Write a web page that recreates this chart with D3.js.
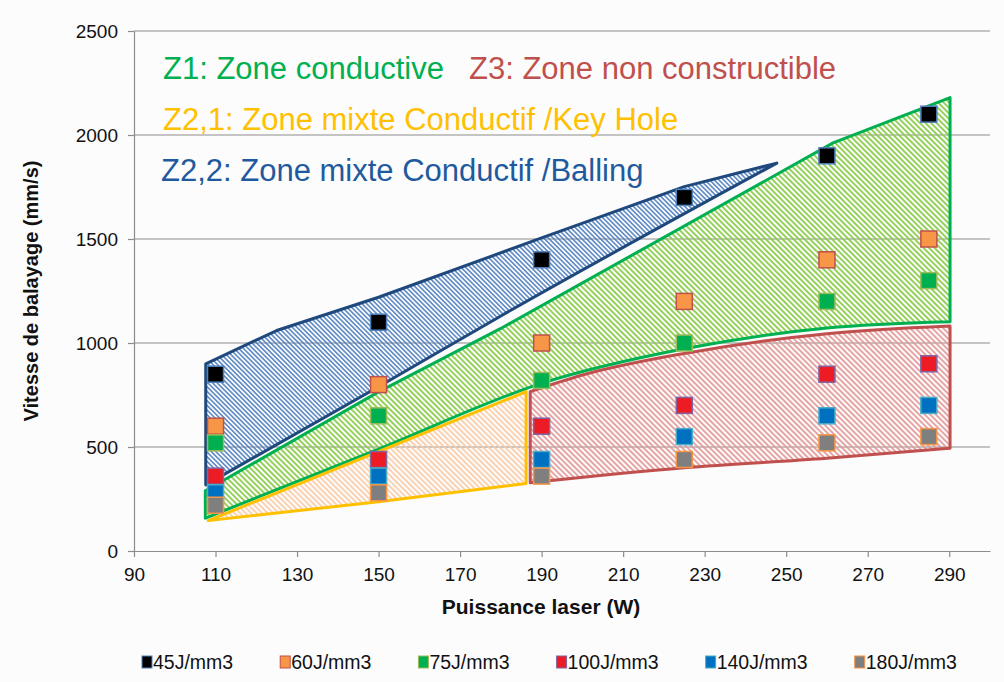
<!DOCTYPE html>
<html>
<head>
<meta charset="utf-8">
<script src="https://cdn.jsdelivr.net/npm/d3@7"></script>
<style>
  body { margin: 0; background: #fcfcfc; }
  svg { display: block; font-family: "Liberation Sans", Arial, sans-serif; }
</style>
</head>
<body>
<div id="main"></div>
<script>
// x values (laser power, W)
const powers = [110, 150, 190, 225, 260, 285]
const seriesNames = ["45J/mm3", "60J/mm3", "75J/mm3", "100J/mm3", "140J/mm3", "180J/mm3"]
// scan speed (mm/s) for each energy density
const v45 = [850, 1100, 1400, 1700, 1900, 2100]
const v60 = [600, 800, 1000, 1200, 1400, 1500]
const v75 = [520, 650, 820, 1000, 1200, 1300]
const v100 = [360, 440, 600, 700, 850, 900]
const v140 = [280, 360, 440, 550, 650, 700]
const v180 = [220, 280, 360, 440, 520, 550]

const xTicks = [90, 110, 130, 150, 170, 190, 210, 230, 250, 270, 290]
const yTicks = [0, 500, 1000, 1500, 2000, 2500]

// zone outlines: upper edge and lower edge, [power, speed]
const z22Top = [[107.6, 900], [125, 1060], [150, 1220], [190, 1505], [225, 1752], [247.7, 1865]]
const z22Bottom = [[107.6, 318], [150, 790], [180, 1130], [247.7, 1865]]
const z1Top = [[107.5, 290], [150, 765], [180, 1070], [261.5, 1962], [290.2, 2180]]
const z1Bottom = [[107.5, 158], [150, 490], [190, 806], [225, 972], [260, 1072], [290.2, 1102]]
const z21Top = [[108.2, 146], [186.2, 766]]
const z21Bottom = [[108.2, 146], [150, 237], [186.2, 325]]
const z3Top = [[187.2, 766], [200, 846], [225, 950], [260, 1045], [290.2, 1082]]
const z3Bottom = [[187.2, 328], [225, 400], [260, 446], [290.2, 494]]

const zoneLabels = ["Z1: Zone conductive", "Z3: Zone non constructible",
                    "Z2,1: Zone mixte Conductif /Key Hole", "Z2,2: Zone mixte Conductif /Balling"]

let width = 1004
let height = 682

let svg = d3.select('#main')
            .append('svg')
            .attr('width', width)
            .attr('height', height)

svg.append('rect').attr('width', width).attr('height', height).attr('fill', '#fcfcfc')

let xScale = d3.scaleLinear().domain([90, 300]).range([134, 990])
let yScale = d3.scaleLinear().domain([0, 2500]).range([551, 31])

// hatch patterns
let defs = svg.append('defs')
let hatch = (id, color, step, w) => {
    let p = defs.append('pattern')
        .attr('id', id)
        .attr('patternUnits', 'userSpaceOnUse')
        .attr('width', step)
        .attr('height', step)
        .attr('patternTransform', 'rotate(45)')
    p.append('line')
        .attr('x1', 0).attr('x2', step)
        .attr('y1', step / 2).attr('y2', step / 2)
        .attr('stroke', color)
        .attr('stroke-width', w)
}
hatch('hBlue', '#4679bd', 3.3, 1.4)
hatch('hGreen', '#8ccc4c', 3.9, 1.8)
hatch('hOrange', '#fbcba5', 3.9, 1.7)
hatch('hRed', '#e39696', 3.9, 1.7)

// grid
svg.append('g')
    .selectAll('line')
    .data(yTicks.filter(d => d > 0))
    .enter()
    .append('line')
    .attr('x1', xScale(90))
    .attr('x2', xScale(300))
    .attr('y1', d => yScale(d))
    .attr('y2', d => yScale(d))
    .attr('stroke', '#8c8c8c')
    .attr('stroke-width', 1)

let xAxis = d3.axisBottom(xScale).tickValues(xTicks).tickSize(6).tickSizeOuter(0).tickPadding(11)
let yAxis = d3.axisLeft(yScale).tickValues(yTicks).tickSize(6).tickSizeOuter(0).tickPadding(10)
    .tickFormat(d3.format('d'))

let gx = svg.append('g')
    .attr('id', 'x-axis')
    .attr('transform', 'translate(0,' + yScale(0) + ')')
    .call(xAxis)
let gy = svg.append('g')
    .attr('id', 'y-axis')
    .attr('transform', 'translate(' + xScale(90) + ',0)')
    .call(yAxis)

;[gx, gy].forEach(g => {
    g.select('.domain').attr('stroke', '#8c8c8c').attr('stroke-width', 1.2)
    g.selectAll('.tick line').attr('stroke', '#8c8c8c').attr('stroke-width', 1.2)
    g.selectAll('.tick text')
        .attr('fill', '#111')
        .style('font-size', '19px')
        .style('font-family', '"Liberation Sans", Arial, sans-serif')
})

// zones
let smooth = d3.line()
    .x(d => xScale(d[0]))
    .y(d => yScale(d[1]))
    .curve(d3.curveMonotoneX)
let straight = d3.line()
    .x(d => xScale(d[0]))
    .y(d => yScale(d[1]))

let zonePath = (top, bottom, topLine) => {
    let a = topLine(top)
    let b = smooth(bottom.slice().reverse())
    return a + 'L' + b.slice(1) + 'Z'
}

let zones = [
    { top: z22Top, bottom: z22Bottom, line: straight, fill: 'url(#hBlue)', stroke: '#1f497d' },
    { top: z1Top, bottom: z1Bottom, line: straight, fill: 'url(#hGreen)', stroke: '#00b050' },
    { top: z21Top, bottom: z21Bottom, line: straight, fill: 'url(#hOrange)', stroke: '#ffc000' },
    { top: z3Top, bottom: z3Bottom, line: smooth, fill: 'url(#hRed)', stroke: '#c0504d' }
]

svg.append('g')
    .selectAll('path')
    .data(zones)
    .enter()
    .append('path')
    .attr('d', d => zonePath(d.top, d.bottom, d.line))
    .attr('fill', d => d.fill)
    .attr('stroke', d => d.stroke)
    .attr('stroke-width', 3)
    .attr('stroke-linejoin', 'round')

// markers
let allSeries = [v45, v60, v75, v100, v140, v180]
let fills = ['#000000', '#f79646', '#00b050', '#ed1c24', '#0070c0', '#7f7f7f']
let borders = ['#4f81bd', '#c0504d', '#9bbb59', '#8064a2', '#4bacc6', '#f79646']
let sq = 16

allSeries.forEach((vals, i) => {
    svg.append('g')
        .selectAll('rect')
        .data(vals.map((v, j) => ({ x: powers[j], y: v })))
        .enter()
        .append('rect')
        .attr('x', d => xScale(d.x) - sq / 2)
        .attr('y', d => yScale(d.y) - sq / 2)
        .attr('width', sq)
        .attr('height', sq)
        .attr('fill', fills[i])
        .attr('stroke', borders[i])
        .attr('stroke-width', 1.5)
})

// zone labels
let labelStyle = [
    { x: 163, y: 79, color: '#00b050' },
    { x: 469, y: 79, color: '#c0504d' },
    { x: 163, y: 130, color: '#ffc000' },
    { x: 161, y: 181, color: '#1f5a9e' }
]
svg.append('g')
    .selectAll('text')
    .data(zoneLabels)
    .enter()
    .append('text')
    .attr('x', (d, i) => labelStyle[i].x)
    .attr('y', (d, i) => labelStyle[i].y)
    .attr('fill', (d, i) => labelStyle[i].color)
    .style('font-size', '31px')
    .text(d => d)

// axis titles
svg.append('text')
    .attr('x', 541)
    .attr('y', 614)
    .attr('text-anchor', 'middle')
    .style('font-size', '21px')
    .style('font-weight', 'bold')
    .attr('fill', '#111')
    .text('Puissance laser (W)')

svg.append('text')
    .attr('transform', 'translate(38,291) rotate(-90)')
    .attr('text-anchor', 'middle')
    .style('font-size', '20px')
    .style('font-weight', 'bold')
    .attr('fill', '#111')
    .text('Vitesse de balayage (mm/s)')

// legend
let legend = svg.append('g').attr('id', 'legend')
let lx = 142
seriesNames.forEach((name, i) => {
    legend.append('rect')
        .attr('x', lx)
        .attr('y', 656)
        .attr('width', 10)
        .attr('height', 12)
        .attr('fill', fills[i])
        .attr('stroke', borders[i])
        .attr('stroke-width', 1)
    let t = legend.append('text')
        .attr('x', lx + 11)
        .attr('y', 669)
        .style('font-size', '19.5px')
        .attr('fill', '#111')
        .text(name)
    lx += 11 + t.node().getComputedTextLength() + 47
})
</script>
</body>
</html>
